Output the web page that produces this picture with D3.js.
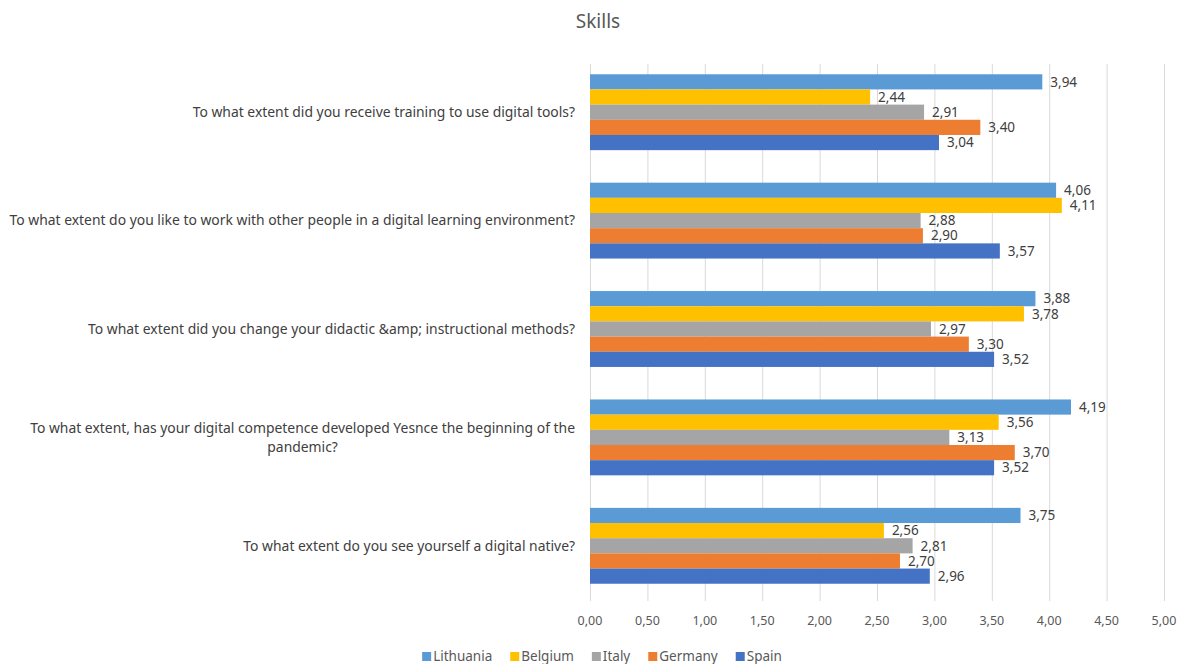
<!DOCTYPE html>
<html>
<head>
<meta charset="utf-8">
<script src="https://cdn.jsdelivr.net/npm/d3@7"></script>
<style>
  body { margin: 0; background: #fff; font-family: "Noto Sans", "Open Sans", sans-serif; }
</style>
</head>
<body>
<script>
// questions (top to bottom)
var categories = [
  "To what extent did you receive training to use digital tools?",
  "To what extent do you like to work with other people in a digital learning environment?",
  "To what extent did you change your didactic &amp; instructional methods?",
  "To what extent, has your digital competence developed Yesnce the beginning of the\npandemic?",
  "To what extent do you see yourself a digital native?"
]
var seriesNames = ["Lithuania", "Belgium", "Italy", "Germany", "Spain"]
var seriesColors = ["#5b9bd5", "#ffc000", "#a5a5a5", "#ed7d31", "#4472c4"]

var lithuania = [3.94, 4.06, 3.88, 4.19, 3.75]
var belgium   = [2.44, 4.11, 3.78, 3.56, 2.56]
var italy     = [2.91, 2.88, 2.97, 3.13, 2.81]
var germany   = [3.40, 2.90, 3.30, 3.70, 2.70]
var spain     = [3.04, 3.57, 3.52, 3.52, 2.96]
var seriesValues = [lithuania, belgium, italy, germany, spain]

var xTicks = [0, 0.5, 1, 1.5, 2, 2.5, 3, 3.5, 4, 4.5, 5]

var width = 1182, height = 664
var plotL = 590, plotR = 1164, plotT = 58, plotB = 600
var fmt = function(v){ return v.toFixed(2).replace(".", ",") }

var svg = d3.select("body").append("svg")
    .attr("width", width)
    .attr("height", height)

var x = d3.scaleLinear().domain([0, 5]).range([plotL, plotR])
var y = d3.scaleBand().domain(d3.range(categories.length)).range([plotT, plotB])
var inner = d3.scaleBand().domain(d3.range(seriesNames.length))
    .range([0, y.bandwidth() * 0.7])

// title
svg.append("text")
    .attr("x", 598).attr("y", 28)
    .attr("text-anchor", "middle")
    .style("font-size", "19px")
    .style("fill", "#595959")
    .text("Skills")

// gridlines
svg.append("g").selectAll("line")
    .data(xTicks)
    .enter().append("line")
    .attr("x1", function(d){ return x(d) + 0.5 }).attr("x2", function(d){ return x(d) + 0.5 })
    .attr("y1", 64).attr("y2", 601)
    .style("stroke", "#d9d9d9")
    .style("stroke-width", 1)

// tick labels
svg.append("g").selectAll("text")
    .data(xTicks)
    .enter().append("text")
    .attr("x", function(d){ return x(d) })
    .attr("y", 625)
    .attr("text-anchor", "middle")
    .style("font-size", "12.5px")
    .style("fill", "#595959")
    .text(fmt)

// bars
var groups = svg.append("g").selectAll("g")
    .data(categories.map(function(c, i){ return i }))
    .enter().append("g")
    .attr("transform", function(i){ return "translate(0," + (y(i) + y.bandwidth() * 0.15) + ")" })

groups.selectAll("rect")
    .data(function(i){ return seriesValues.map(function(s, k){ return {k: k, v: s[i]} }) })
    .enter().append("rect")
    .attr("x", x(0))
    .attr("y", function(d){ return inner(d.k) })
    .attr("width", function(d){ return x(d.v) - x(0) })
    .attr("height", inner.bandwidth())
    .style("fill", function(d){ return seriesColors[d.k] })

groups.selectAll("text")
    .data(function(i){ return seriesValues.map(function(s, k){ return {k: k, v: s[i]} }) })
    .enter().append("text")
    .attr("x", function(d){ return x(d.v) + 8 })
    .attr("y", function(d){ return inner(d.k) + inner.bandwidth() / 2 })
    .attr("dy", "0.35em")
    .style("font-size", "13.5px")
    .style("fill", "#404040")
    .text(function(d){ return fmt(d.v) })

// category labels, right aligned block, lines centred inside it
var catG = svg.append("g")
categories.forEach(function(c, i){
  var lines = c.split("\n")
  var cy = y(i) + y.bandwidth() / 2
  var t = catG.selectAll(null).data(lines).enter().append("text")
      .attr("y", function(d, j){ return cy + (j - (lines.length - 1) / 2) * 19 })
      .attr("dy", "0.35em")
      .style("font-size", "13.9px")
      .style("fill", "#404040")
      .text(function(d){ return d })
  var w = d3.max(t.nodes(), function(n){ return n.getComputedTextLength() })
  t.attr("x", 575 - w / 2).attr("text-anchor", "middle")
})

// legend
var leg = svg.append("g")
var lx = 0
seriesNames.forEach(function(n, k){
  leg.append("rect")
      .attr("x", lx).attr("y", 652)
      .attr("width", 9).attr("height", 9)
      .style("fill", seriesColors[k])
  var t = leg.append("text")
      .attr("x", lx + 11).attr("y", 661)
      .style("font-size", "13.5px")
      .style("fill", "#595959")
      .text(n)
  lx += 11 + t.node().getComputedTextLength() + 18
})
var lw = lx - 18
leg.attr("transform", "translate(" + (602 - lw / 2) + ",0)")
</script>
</body>
</html>
